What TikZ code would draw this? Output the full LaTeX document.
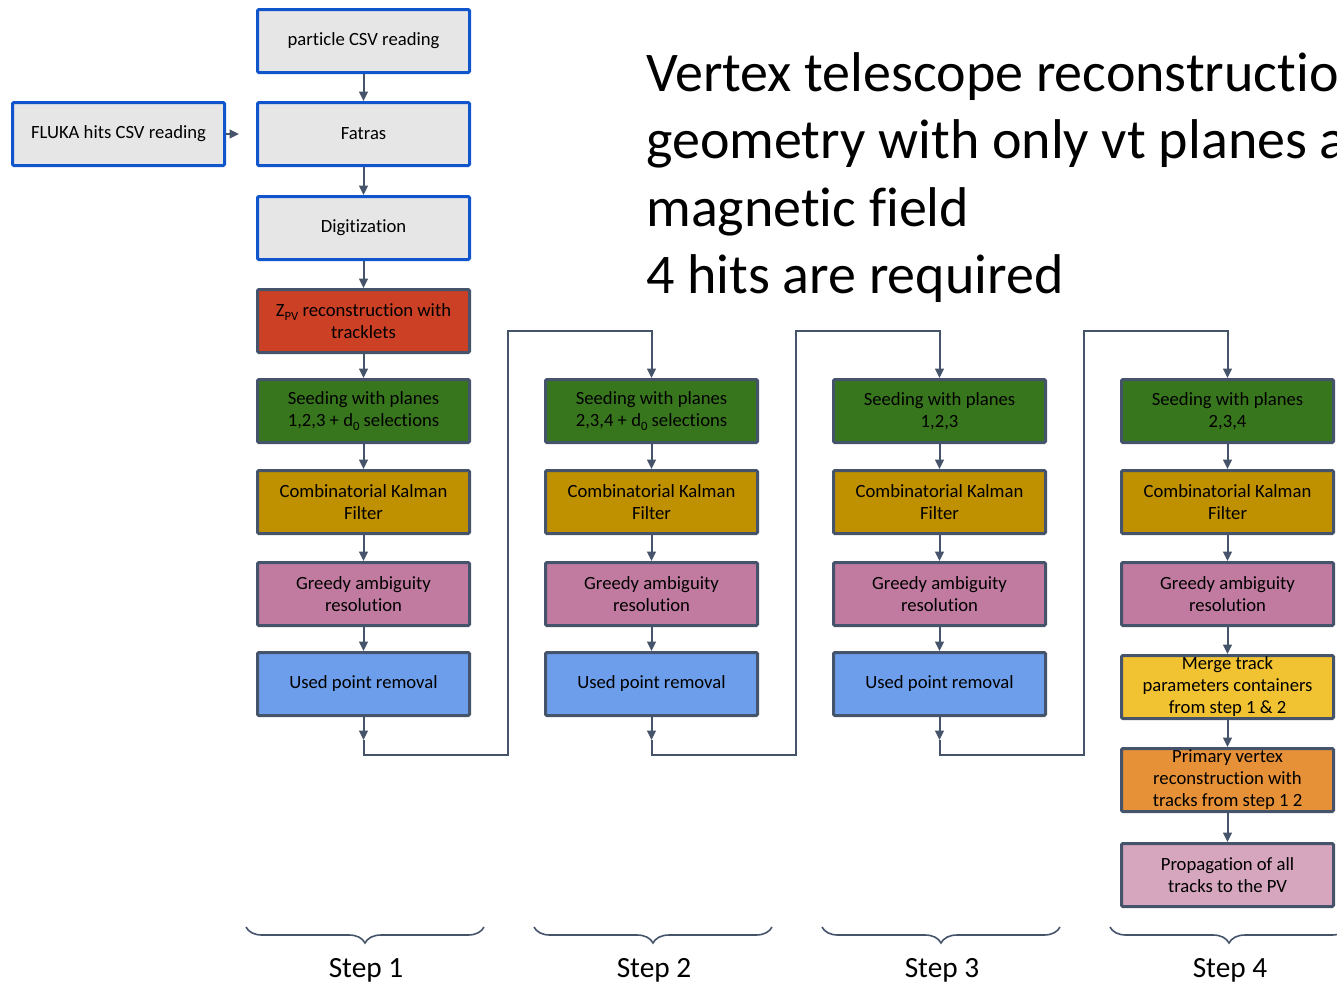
\documentclass[tikz,border=0pt]{standalone}
\usepackage{fontspec}
\setmainfont{Carlito}[Ligatures=NoCommon]
\usetikzlibrary{arrows.meta, decorations.pathreplacing}
\definecolor{slate}{HTML}{45546A}
\definecolor{gblue}{HTML}{1155CC}
\definecolor{lgray}{HTML}{E6E6E6}
\definecolor{zred}{HTML}{CC4125}
\definecolor{seedgreen}{HTML}{38761D}
\definecolor{ckfgold}{HTML}{BF9000}
\definecolor{greedypink}{HTML}{C27BA0}
\definecolor{usedblue}{HTML}{6D9EEB}
\definecolor{mergeyellow}{HTML}{F1C232}
\definecolor{pvorange}{HTML}{E69138}
\definecolor{proppink}{HTML}{D5A6BD}
\newcommand{\lowsub}[1]{\raisebox{-0.45ex}{\fontsize{9.5}{9.5}\selectfont #1}}
\tikzset{
    stage/.style={draw=slate, line width=2.25pt, rounded corners=1pt, minimum width=159pt, minimum height=47.25pt, align=center, inner sep=1pt, font=\fontsize{14}{16.5}\selectfont},
    input/.style={stage, draw=gblue, fill=lgray},
    link/.style={draw=slate, line width=1.5pt, -{Triangle[width=6.5pt,length=7pt]}},
    stepbrace/.style={draw=slate, line width=1.2pt, decorate, decoration={brace, mirror, amplitude=12pt, aspect=0.5}},
    steplabel/.style={anchor=base, inner sep=0pt, font=\fontsize{22}{26}\selectfont}
}

\begin{document}
\begin{tikzpicture}[x=0.75pt, y=-0.75pt]
    \useasboundingbox (0,0) rectangle (1337,982);

    % inputs
    \node[input] (particle) at (363.5,41) {particle CSV reading};
    \node[input] (fluka) at (118.5,134) {FLUKA hits CSV reading};
    \node[input] (fatras) at (363.5,134) {Fatras};
    \node[input] (digi) at (363.5,228) {Digitization};
    \node[stage, fill=zred] (zpv) at (363.5,321) {Z\lowsub{PV} reconstruction with\\tracklets};
    \coordinate (fluka end) at (239,134);

    % step 1
    \node[stage, fill=seedgreen] (seed1) at (363.5,411) {Seeding with planes\\1,2,3 + d\lowsub{0} selections};
    \node[stage, fill=ckfgold] (ckf1) at (363.5,502) {Combinatorial Kalman\\Filter};
    \node[stage, fill=greedypink] (greedy1) at (363.5,594) {Greedy ambiguity\\resolution};
    \node[stage, fill=usedblue] (used1) at (363.5,684) {Used point removal};

    % step 2
    \node[stage, fill=seedgreen] (seed2) at (651.5,411) {Seeding with planes\\2,3,4 + d\lowsub{0} selections};
    \node[stage, fill=ckfgold] (ckf2) at (651.5,502) {Combinatorial Kalman\\Filter};
    \node[stage, fill=greedypink] (greedy2) at (651.5,594) {Greedy ambiguity\\resolution};
    \node[stage, fill=usedblue] (used2) at (651.5,684) {Used point removal};

    % step 3
    \node[stage, fill=seedgreen] (seed3) at (939.5,411) {Seeding with planes\\1,2,3};
    \node[stage, fill=ckfgold] (ckf3) at (939.5,502) {Combinatorial Kalman\\Filter};
    \node[stage, fill=greedypink] (greedy3) at (939.5,594) {Greedy ambiguity\\resolution};
    \node[stage, fill=usedblue] (used3) at (939.5,684) {Used point removal};

    % step 4
    \node[stage, fill=seedgreen] (seed4) at (1227.5,411) {Seeding with planes\\2,3,4};
    \node[stage, fill=ckfgold] (ckf4) at (1227.5,502) {Combinatorial Kalman\\Filter};
    \node[stage, fill=greedypink] (greedy4) at (1227.5,594) {Greedy ambiguity\\resolution};
    \node[stage, fill=mergeyellow] (merge) at (1227.5,687) {Merge track\\parameters containers\\from step 1 \& 2};
    \node[stage, fill=pvorange] (pv) at (1227.5,780) {Primary vertex\\reconstruction with\\tracks from step 1 2};
    \node[stage, fill=proppink] (prop) at (1227.5,875) {Propagation of all\\tracks to the PV};

    % turn points between steps
    \coordinate (turn1) at (363.5,740);
    \coordinate (turn2) at (651.5,740);
    \coordinate (turn3) at (939.5,740);
    \coordinate (bend1) at (508,755);
    \coordinate (bend2) at (796,755);
    \coordinate (bend3) at (1084,755);
    \coordinate (rise1) at (508,331);
    \coordinate (rise2) at (796,331);
    \coordinate (rise3) at (1084,331);

    \draw[link] (particle) -- (fatras);
    \draw[link] (fluka) -- (fluka end);
    \draw[link] (fatras) -- (digi);
    \draw[link] (digi) -- (zpv);
    \draw[link] (zpv) -- (seed1);
    \draw[link] (seed1) -- (ckf1);
    \draw[link] (ckf1) -- (greedy1);
    \draw[link] (greedy1) -- (used1);
    \draw[link] (used1) -- (turn1);
    \draw[link] (turn1) |- (bend1) -- (rise1) -| (seed2.north);
    \draw[link] (seed2) -- (ckf2);
    \draw[link] (ckf2) -- (greedy2);
    \draw[link] (greedy2) -- (used2);
    \draw[link] (used2) -- (turn2);
    \draw[link] (turn2) |- (bend2) -- (rise2) -| (seed3.north);
    \draw[link] (seed3) -- (ckf3);
    \draw[link] (ckf3) -- (greedy3);
    \draw[link] (greedy3) -- (used3);
    \draw[link] (used3) -- (turn3);
    \draw[link] (turn3) |- (bend3) -- (rise3) -| (seed4.north);
    \draw[link] (seed4) -- (ckf4);
    \draw[link] (ckf4) -- (greedy4);
    \draw[link] (greedy4) -- (merge);
    \draw[link] (merge) -- (pv);
    \draw[link] (pv) -- (prop);

    % title
    \node[anchor=north west, align=left, inner sep=0pt, font=\fontsize{42}{50.6}\selectfont] (title) at (646,52)
        {Vertex telescope reconstructio\\geometry with only vt planes a\\magnetic field\\4 hits are required};

    % steps
    \draw[stepbrace] (246,927) -- (484,927);
    \draw[stepbrace] (534,927) -- (772,927);
    \draw[stepbrace] (822,927) -- (1060,927);
    \draw[stepbrace] (1110,927) -- (1348,927);
    \node[steplabel] (step1) at (366,977) {Step 1};
    \node[steplabel] (step2) at (654,977) {Step 2};
    \node[steplabel] (step3) at (942,977) {Step 3};
    \node[steplabel] (step4) at (1230,977) {Step 4};
\end{tikzpicture}
\end{document}
